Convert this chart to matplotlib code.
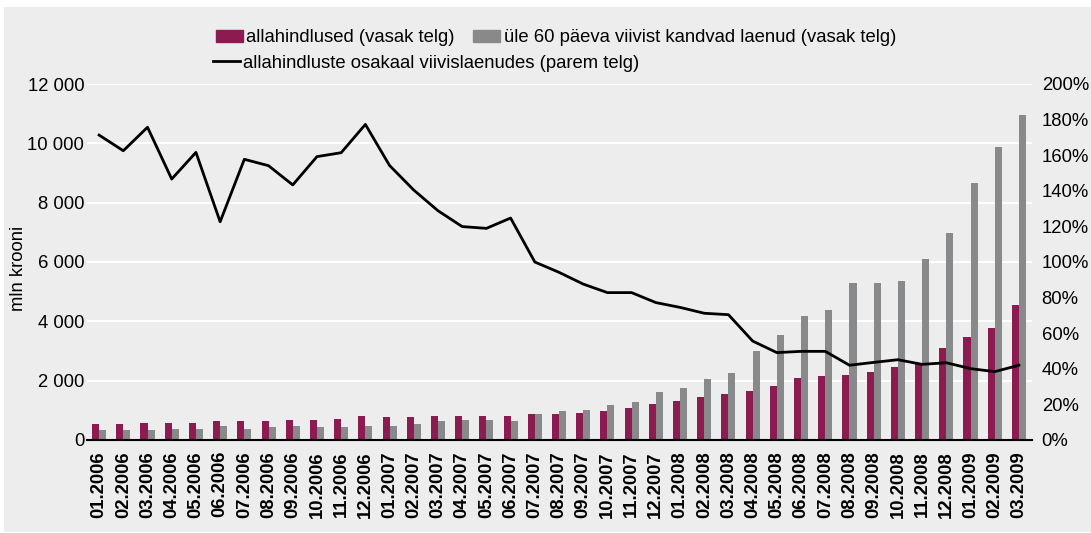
import matplotlib.pyplot as plt
from matplotlib.patches import Rectangle
from matplotlib.lines import Line2D
from matplotlib.ticker import FuncFormatter
import numpy as np

months = [
    "01.2006", "02.2006", "03.2006", "04.2006", "05.2006", "06.2006",
    "07.2006", "08.2006", "09.2006", "10.2006", "11.2006", "12.2006",
    "01.2007", "02.2007", "03.2007", "04.2007", "05.2007", "06.2007",
    "07.2007", "08.2007", "09.2007", "10.2007", "11.2007", "12.2007",
    "01.2008", "02.2008", "03.2008", "04.2008", "05.2008", "06.2008",
    "07.2008", "08.2008", "09.2008", "10.2008", "11.2008", "12.2008",
    "01.2009", "02.2009", "03.2009",
]

# allahindlused, mln krooni
discounts = [
    540, 540, 573, 573, 573, 640, 640, 640, 674, 674, 708, 809,
    775, 775, 809, 809, 809, 809, 876, 876, 910, 977, 1078, 1213,
    1314, 1449, 1550, 1651, 1820, 2089, 2157, 2190, 2292, 2460, 2561, 3100,
    3471, 3774, 4550,
]

# üle 60 päeva viivist kandvad laenud, mln krooni
overdue = [
    337, 337, 337, 371, 371, 472, 371, 438, 472, 438, 438, 472,
    472, 540, 640, 674, 674, 640, 876, 977, 1011, 1180, 1281, 1618,
    1752, 2056, 2258, 2999, 3538, 4179, 4381, 5291, 5291, 5358, 6100, 6976,
    8661, 9874, 10953,
]

# allahindluste osakaal viivislaenudes, %
share = [
    171.3, 162.5, 175.7, 146.6, 161.6, 122.6, 157.7, 154.1, 143.3, 159.2, 161.4, 177.3,
    154.2, 140.4, 128.8, 119.9, 118.9, 124.7, 100.0, 94.2, 87.6, 82.8, 82.8, 77.2,
    74.5, 71.2, 70.4, 55.6, 49.1, 49.8, 49.8, 42.0, 43.6, 45.1, 42.5, 43.4,
    40.1, 38.4, 42.0,
]

MAROON = "#8C1B51"
GREY = "#88898B"
BG = "#ECEDEC"
FS = 13.3

plt.rcParams["font.family"] = ["Liberation Sans", "DejaVu Sans"]

fig = plt.figure(figsize=(10.91, 5.33), dpi=100, facecolor="white")
fig.patches.append(Rectangle((4 / 1091, 1 / 533), 1, 1 - 8 / 533,
                             transform=fig.transFigure, facecolor=BG,
                             edgecolor="none", zorder=-10))

ax = fig.add_axes([87 / 1091, 1 - 440 / 533, 945 / 1091, 356 / 533])
ax.set_facecolor(BG)
ax.set_zorder(1)

x = np.arange(len(months))
w = 0.29
ax.bar(x - w / 2, discounts, width=w, color=MAROON, zorder=2)
ax.bar(x + w / 2, overdue, width=w, color=GREY, zorder=2)

ax.set_xlim(-0.5, len(months) - 0.46)
ax.set_ylim(0, 12000)
ax.set_yticks(range(0, 12001, 2000))
ax.yaxis.set_major_formatter(FuncFormatter(lambda v, p: f"{int(v):,}".replace(",", " ")))
ax.grid(axis="y", color="white", linewidth=1.5, zorder=0)
ax.set_axisbelow(True)
for s in ["top", "right", "left"]:
    ax.spines[s].set_visible(False)
ax.spines["bottom"].set_linewidth(1.5)
ax.spines["bottom"].set_zorder(3)

ax.set_xticks(x)
ax.set_xticklabels(months, rotation=90, fontsize=FS, fontweight="bold")
ax.tick_params(axis="x", length=0, pad=8)
ax.tick_params(axis="y", length=0, pad=2, labelsize=FS)
ax.set_ylabel("mln krooni", fontsize=FS)
ax.yaxis.set_label_coords(-0.064, 0.483)

ax2 = ax.twinx()
ax2.plot(x, share, color="black", linewidth=2.0, zorder=4)
ax2.set_ylim(0, 200)
ax2.set_yticks(range(0, 201, 20))
ax2.yaxis.set_major_formatter(FuncFormatter(lambda v, p: f"{int(v)}%"))
ax2.tick_params(axis="y", length=0, pad=7, labelsize=FS)
for s in ["top", "right", "left", "bottom"]:
    ax2.spines[s].set_visible(False)

h_a = Rectangle((0, 0), 1, 1, color=MAROON)
h_b = Rectangle((0, 0), 1, 1, color=GREY)
h_c = Line2D([], [], color="black", linewidth=2.0)

leg_kw = dict(frameon=False, fontsize=FS, handlelength=1.45, handleheight=0.6,
              handletextpad=0.2, borderaxespad=0, borderpad=0, loc="center left")
fig.legend([h_a, h_b], ["allahindlused (vasak telg)",
                        "üle 60 päeva viivist kandvad laenud (vasak telg)"],
           ncol=2, columnspacing=1.0, bbox_to_anchor=(216 / 1091, 1 - 38 / 533), **leg_kw)
fig.legend([h_c], ["allahindluste osakaal viivislaenudes (parem telg)"],
           bbox_to_anchor=(213 / 1091, 1 - 63 / 533), **leg_kw)

fig.savefig("out.png", dpi=100, facecolor=fig.get_facecolor())
